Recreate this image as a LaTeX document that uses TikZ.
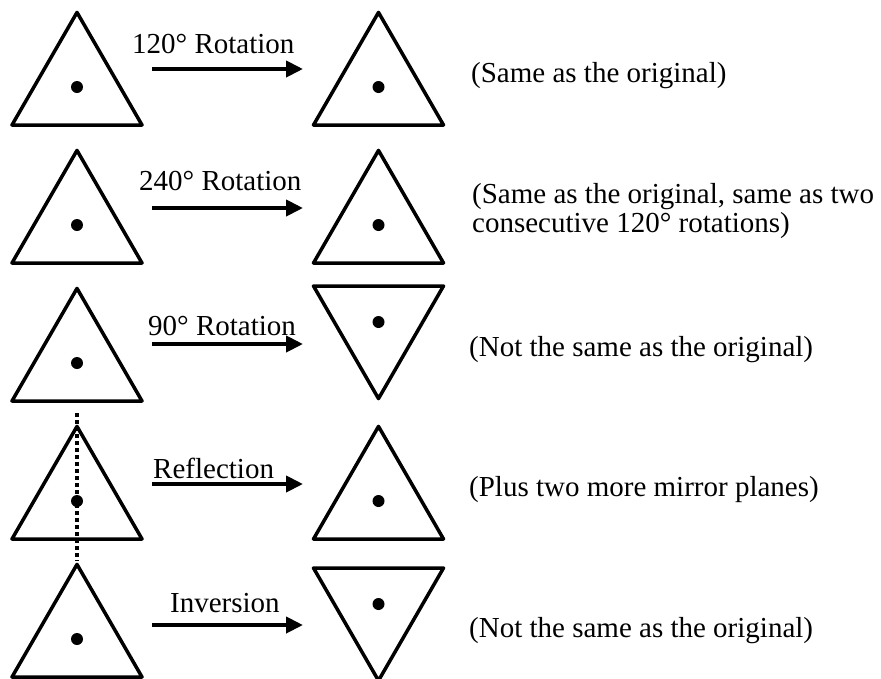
\documentclass[tikz,border=0pt]{standalone}
\usepackage{fontspec}
\setmainfont{Liberation Serif}
\usetikzlibrary{arrows.meta}
\begin{document}
\begin{tikzpicture}[x=1pt,y=-1pt,
  tri/.style={line width=3.5pt,line join=round},
  dotmark/.style={fill=black},
  symarrow/.style={line width=4pt,-{Triangle[length=17pt,width=16pt]}},
  lbl/.style={inner sep=0pt,anchor=base west,font=\fontsize{29}{29}\selectfont},
  mirror/.style={line width=4pt,dash pattern=on 4pt off 3pt}]
\useasboundingbox (0,0) rectangle (881,678);
% upright triangles: apex at base-112.6
\foreach \cx/\by in {77/125,77/263,77/401,77/539,77/677,378.5/125,378.5/263,378.5/539}{
  \draw[tri] (\cx-65,\by) -- (\cx+65,\by) -- (\cx,\by-112.6) -- cycle;
  \fill[dotmark] (\cx,\by-38) circle (6);
}
% inverted triangles
\foreach \cx/\ty in {378.5/286,378.5/568}{
  \draw[tri] (\cx-65,\ty) -- (\cx+65,\ty) -- (\cx,\ty+112.6) -- cycle;
  \fill[dotmark] (\cx,\ty+36) circle (6);
}
% mirror line
\coordinate (m1) at (77,413);
\coordinate (m2) at (77,561);
\draw[mirror] (m1) -- (m2);
% arrows
\foreach \i/\y in {1/69,2/208,3/344,4/484,5/625}{
  \coordinate (a\i) at (152,\y);
  \coordinate (b\i) at (303,\y);
  \draw[symarrow] (a\i) -- (b\i);
}
% arrow labels
\node[lbl] (l1) at (132,53) {120° Rotation};
\node[lbl] (l2) at (139,190) {240° Rotation};
\node[lbl] (l3) at (148,335) {90° Rotation};
\node[lbl] (l4) at (153,478) {Reflection};
\node[lbl] (l5) at (170,612) {Inversion};
% comments
\node[lbl] (t1) at (471,82) {(Same as the original)};
\node[lbl] (t2a) at (472,203) {(Same as the original, same as two};
\node[lbl] (t2b) at (472,232) {consecutive 120° rotations)};
\node[lbl] (t3) at (469,356) {(Not the same as the original)};
\node[lbl] (t4) at (469,496) {(Plus two more mirror planes)};
\node[lbl] (t5) at (469,637) {(Not the same as the original)};
\end{tikzpicture}
\end{document}
